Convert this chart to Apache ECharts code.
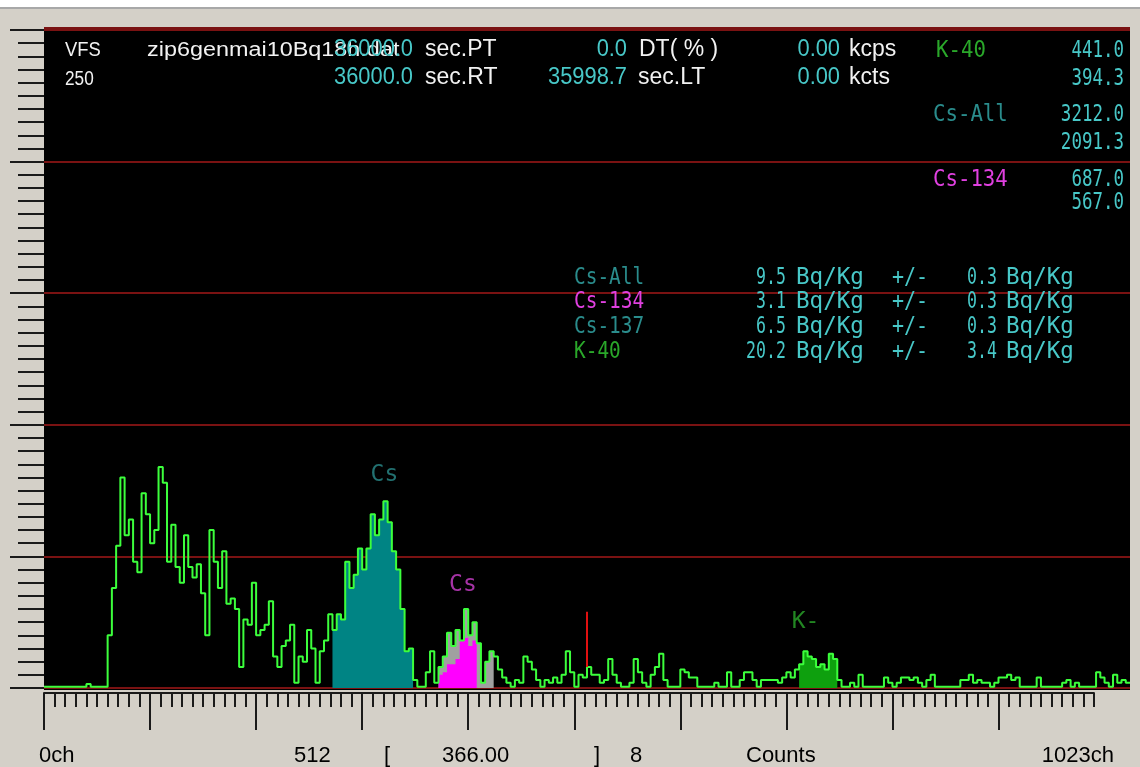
<!DOCTYPE html>
<html>
<head>
<meta charset="utf-8">
<title>zip6genmai10Bq18h.dat</title>
<script src="https://cdn.jsdelivr.net/npm/echarts@6/dist/echarts.min.js"></script>
<style>
  html, body { margin: 0; padding: 0; background: #d4d0c8; }
  #chart { width: 1140px; height: 767px; }
</style>
</head>
<body>
<div id="chart"></div>
<script>
// ---- spectrum data (counts per 4-channel bin, channel 0 .. 1023) ----
const channelStep = 4;
const totalChannels = 1024;
const counts = [
  0.5, 0.5, 0.5, 0.5, 0.5, 0.5, 0.5, 0.5, 0.5, 0.5, 1.5, 0.5, 0.5, 0.5, 0.5,
  20, 38, 54, 80, 58, 64, 48, 44, 74, 66, 55, 60, 84, 78, 48, 62, 46, 40, 58, 46,
  42, 47, 36, 20, 60, 48, 38, 52, 32, 34, 30, 8, 26, 24, 40, 20, 22, 24, 33, 12,
  8, 16, 18, 24, 2, 12, 10, 22, 15, 2, 14, 18, 28,
  22, 28, 26, 48, 38, 43, 53, 45, 53, 66, 58, 64, 71, 63, 52, 45, 30, 14, 15, 3,
  0.5, 0.5, 6, 14, 2,
  8, 12, 21, 16, 22, 18, 30, 20, 25, 17, 2, 10, 14, 12, 7, 4, 2, 0.5, 3, 2,
  12, 10, 7, 3, 0.5, 3, 2, 4, 2, 5, 14, 6, 0.5, 5, 4, 8, 5, 5, 2, 3,
  11, 5, 2, 0.5, 0.5, 2, 11, 6, 2, 0.5, 5, 8, 13,
  3, 0.5, 0.5, 0.5, 7, 6, 4, 4, 0.5, 0.5, 0.5, 0.5, 2, 0.5, 0.5, 6, 0.5, 0.5, 3, 6,
  6, 3, 0.5, 3, 3, 3, 3, 2, 4, 6, 4, 7, 9, 14, 12, 11, 8, 9, 7, 13,
  11, 3, 0.5, 0.5, 2, 0.5, 5, 0.5, 0.5, 0.5, 0.5, 0.5, 4, 2, 0.5, 2, 4, 4, 3, 4,
  2, 0.5, 3, 5, 0.5, 0.5, 0.5, 0.5, 0.5, 0.5, 3, 3, 5, 2, 3, 2, 2, 0.5, 2, 4,
  4, 5, 3, 4, 0.5, 0.5, 0.5, 0.5, 4, 0.5, 0.5, 0.5, 0.5, 0.5, 2, 3, 0.5, 2, 0.5, 0.5,
  0.5, 0.5, 6, 4, 2, 0.5, 5, 2, 3, 2
];

// regions of interest (channel ranges)
const cs137Roi = [272, 348];
const cs134Roi = [372, 424];
const k40Roi = [712, 748];
// net Cs-134 peak area, per bin from channel 372
const cs134NetStart = 372;
const cs134Net = [5, 6, 9, 9, 11, 18, 19, 16, 18];

// peak tags over the spectrum
const peakNames = ['Cs', 'Cs', 'K-'];
const peakChannels = [321, 395, 718];
const peakLabelCounts = [81, 39, 25];

// cursor
const cursorChannel = 512;
const cursorTop = 29;

// axes
const yMax = 250;
const yStep = 50;
const yMinorSplit = 10;
const xMinorStep = 10;
const xMajorStep = 100;
const xMinorEnd = 990;
const xMajorEnd = 900;

// header / result texts
const vfs = '250';
const fileName = 'zip6genmai10Bq18h.dat';
const presetTime = '36000.0';
const realTime = '36000.0';
const liveTime = '35998.7';
const deadTime = '0.0';
const rateKcps = '0.00';
const totalKcts = '0.00';
const roiNames = ['K-40', 'Cs-All', 'Cs-134'];
const roiGross = ['441.0', '3212.0', '687.0'];
const roiNet = ['394.3', '2091.3', '567.0'];
const nuclides = ['Cs-All', 'Cs-134', 'Cs-137', 'K-40'];
const activity = ['9.5', '3.1', '6.5', '20.2'];
const uncertainty = ['0.3', '0.3', '0.3', '3.4'];
const cursorValue = '366.00';
const smoothing = '8';
const unitName = 'Counts';

// ---- colours ----
const C = {
  white: '#f2f2f2',
  cyan: '#48c8c8',
  teal: '#2a8c8c',
  magenta: '#e040e0',
  kGreen: '#2aa82a',
  line: '#3cff3c',
  tealFill: '#008484',
  magentaFill: '#ff00ff',
  grayFill: '#a0a0a0',
  kFill: '#0ea00e',
  grid: '#7a1212',
  tick: '#1a1a1a',
  cursor: '#e01010'
};
const nuclideColors = [C.teal, C.magenta, C.teal, C.kGreen];
const peakColors = [C.teal, '#d040d0', C.kGreen];

// ---- build series data ----
const spectrum = counts.map((c, i) => [i * channelStep, c]);
spectrum.push([counts.length * channelStep, counts[counts.length - 1]]);
const roiSlice = r => spectrum.filter(p => p[0] >= r[0] && p[0] <= r[1]);
const cs134NetData = cs134Net.map((c, i) => [cs134NetStart + i * channelStep, c]);
cs134NetData.push([cs134NetStart + cs134Net.length * channelStep, cs134Net[cs134Net.length - 1]]);
const cursorBase = counts[Math.round(cursorChannel / channelStep)];

// ---- layout ----
const W = 1140;
const plotLeft = 44, plotRight = 10, plotTop = 30, plotBottom = 79;
const plotWidth = W - plotLeft - plotRight;
const tickAxisTop = 692;

const sansHead = '23px "Liberation Sans", Arial, sans-serif';
const sansSmall = '20px "Liberation Sans", Arial, sans-serif';
const sansStatus = '22px "Liberation Sans", Arial, sans-serif';
const mono = '23px "DejaVu Sans Mono", monospace';

function txt(text, x, y, font, color, align, sx) {
  return {
    type: 'text', x: x, y: y, scaleX: sx || 1, z: 20, silent: true,
    style: { text: text, font: font, fill: color, align: align || 'left', verticalAlign: 'middle' }
  };
}

const texts = [];
// header, row 1 and 2
texts.push(txt('VFS', 65, 50, sansSmall, C.white, 'left', 0.92));
texts.push(txt(vfs, 65, 79, sansSmall, C.white, 'left', 0.86));
texts.push(txt(fileName, 147, 50, sansSmall, C.white, 'left', 1.17));
texts.push(txt(presetTime, 413, 50, sansHead, C.cyan, 'right', 0.95));
texts.push(txt('sec.PT', 425, 50, sansHead, C.white));
texts.push(txt(deadTime, 627, 50, sansHead, C.cyan, 'right', 0.95));
texts.push(txt('DT( % )', 639, 50, sansHead, C.white));
texts.push(txt(rateKcps, 840, 50, sansHead, C.cyan, 'right', 0.95));
texts.push(txt('kcps', 849, 50, sansHead, C.white));
texts.push(txt(realTime, 413, 78, sansHead, C.cyan, 'right', 0.95));
texts.push(txt('sec.RT', 425, 78, sansHead, C.white));
texts.push(txt(liveTime, 627, 78, sansHead, C.cyan, 'right', 0.95));
texts.push(txt('sec.LT', 638, 78, sansHead, C.white));
texts.push(txt(totalKcts, 840, 78, sansHead, C.cyan, 'right', 0.95));
texts.push(txt('kcts', 849, 78, sansHead, C.white));
// ROI totals column
const roiNameX = [936, 933, 933];
const roiNameColor = [C.kGreen, C.teal, C.magenta];
const roiRowY = [51, 115, 180];
const roiNetY = [79, 143, 203];
roiNames.forEach((n, i) => {
  texts.push(txt(n, roiNameX[i], roiRowY[i], mono, roiNameColor[i], 'left', 0.9));
  texts.push(txt(roiGross[i], 1124, roiRowY[i], mono, C.cyan, 'right', 0.76));
  texts.push(txt(roiNet[i], 1124, roiNetY[i], mono, C.cyan, 'right', 0.76));
});
// activity results
const resultY = [278, 302, 327, 352];
nuclides.forEach((n, i) => {
  const y = resultY[i];
  texts.push(txt(n, 574, y, mono, nuclideColors[i], 'left', 0.845));
  texts.push(txt(activity[i], 786, y, mono, C.cyan, 'right', 0.72));
  texts.push(txt('Bq/Kg', 796, y, mono, C.cyan, 'left', 0.98));
  texts.push(txt('+/-', 892, y, mono, C.cyan, 'left', 0.87));
  texts.push(txt(uncertainty[i], 997, y, mono, C.cyan, 'right', 0.72));
  texts.push(txt('Bq/Kg', 1006, y, mono, C.cyan, 'left', 0.98));
});
// status bar
const statusY = 756;
texts.push(txt('0ch', 39, statusY, sansStatus, '#000'));
texts.push(txt(String(cursorChannel), 294, statusY, sansStatus, '#000'));
texts.push(txt('[', 384, statusY, sansStatus, '#000'));
texts.push(txt(cursorValue, 442, statusY, sansStatus, '#000'));
texts.push(txt(']', 594, statusY, sansStatus, '#000'));
texts.push(txt(smoothing, 630, statusY, sansStatus, '#000'));
texts.push(txt(unitName, 746, statusY, sansStatus, '#000'));
texts.push(txt((totalChannels - 1) + 'ch', 1114, statusY, sansStatus, '#000', 'right'));

const chrome = [
  { type: 'rect', z: -5, silent: true, shape: { x: 0, y: 0, width: W, height: 7 }, style: { fill: '#ffffff' } },
  { type: 'rect', z: -5, silent: true, shape: { x: 0, y: 7, width: W, height: 2 }, style: { fill: '#a8a8a8' } },
  // plot frame: black field with the dark red top edge
  { type: 'rect', z: -5, silent: true, shape: { x: plotLeft, y: 27, width: plotWidth, height: 663 }, style: { fill: '#000' } },
  { type: 'rect', z: -4, silent: true, shape: { x: plotLeft, y: 27, width: plotWidth, height: 2 }, style: { fill: C.grid } }
];

const tickStyle = { color: C.tick, width: 2 };

function fillSeries(name, data, color) {
  return {
    name: name, type: 'line', step: 'end', data: data, symbol: 'none', silent: true,
    xAxisIndex: 0, yAxisIndex: 0,
    lineStyle: { width: 0 }, areaStyle: { color: color, opacity: 1 }, z: 2
  };
}

const option = {
  animation: false,
  backgroundColor: '#d4d0c8',
  graphic: { elements: chrome.concat(texts) },
  grid: [
    { left: plotLeft, right: plotRight, top: plotTop, bottom: plotBottom, show: false },
    { left: plotLeft, width: plotWidth * xMinorEnd / totalChannels, top: tickAxisTop, height: 1 },
    { left: plotLeft, width: plotWidth * xMajorEnd / totalChannels, top: tickAxisTop, height: 1 }
  ],
  xAxis: [
    { gridIndex: 0, type: 'value', min: 0, max: totalChannels, show: false },
    {
      gridIndex: 1, type: 'value', min: 0, max: xMinorEnd, interval: xMinorStep, position: 'bottom',
      axisLine: { show: true, lineStyle: tickStyle },
      axisTick: { show: true, length: 14, lineStyle: tickStyle },
      axisLabel: { show: false }, splitLine: { show: false }
    },
    {
      gridIndex: 2, type: 'value', min: 0, max: xMajorEnd, interval: xMajorStep, position: 'bottom',
      axisLine: { show: false },
      axisTick: { show: true, length: 37, lineStyle: tickStyle },
      axisLabel: { show: false }, splitLine: { show: false }
    }
  ],
  yAxis: [
    {
      gridIndex: 0, type: 'value', min: 0, max: yMax, interval: yStep,
      axisLine: { show: false },
      axisLabel: { show: false },
      axisTick: { show: true, inside: false, length: 34, lineStyle: tickStyle },
      minorTick: { show: true, splitNumber: yMinorSplit, length: 26, lineStyle: tickStyle },
      splitLine: { show: true, lineStyle: { color: C.grid, width: 2 } }
    },
    { gridIndex: 1, type: 'value', show: false },
    { gridIndex: 2, type: 'value', show: false }
  ],
  series: [
    fillSeries('Cs ROI', roiSlice(cs137Roi), C.tealFill),
    fillSeries('Cs-134 ROI', roiSlice(cs134Roi), C.grayFill),
    fillSeries('Cs-134 net', cs134NetData, C.magentaFill),
    fillSeries('K-40 ROI', roiSlice(k40Roi), C.kFill),
    {
      name: 'spectrum', type: 'line', step: 'end', data: spectrum, symbol: 'none', silent: true,
      xAxisIndex: 0, yAxisIndex: 0, z: 3,
      lineStyle: { color: C.line, width: 2 },
      markLine: {
        silent: true, symbol: ['none', 'none'], label: { show: false },
        lineStyle: { color: C.cursor, width: 2, type: 'solid' },
        data: [[{ coord: [cursorChannel, cursorBase] }, { coord: [cursorChannel, cursorTop] }]]
      }
    },
    {
      name: 'peaks', type: 'scatter', xAxisIndex: 0, yAxisIndex: 0, silent: true, z: 4,
      symbolSize: 1, itemStyle: { color: 'rgba(0,0,0,0)' },
      label: { show: true, position: 'inside', formatter: '{b}', fontFamily: 'DejaVu Sans Mono', fontSize: 23 },
      data: peakNames.map((n, i) => ({ name: n, value: [peakChannels[i], peakLabelCounts[i]], label: { color: peakColors[i] } }))
    }
  ]
};

const chart = echarts.init(document.getElementById('chart'), null, { renderer: 'canvas' });
chart.setOption(option);
</script>
</body>
</html>
